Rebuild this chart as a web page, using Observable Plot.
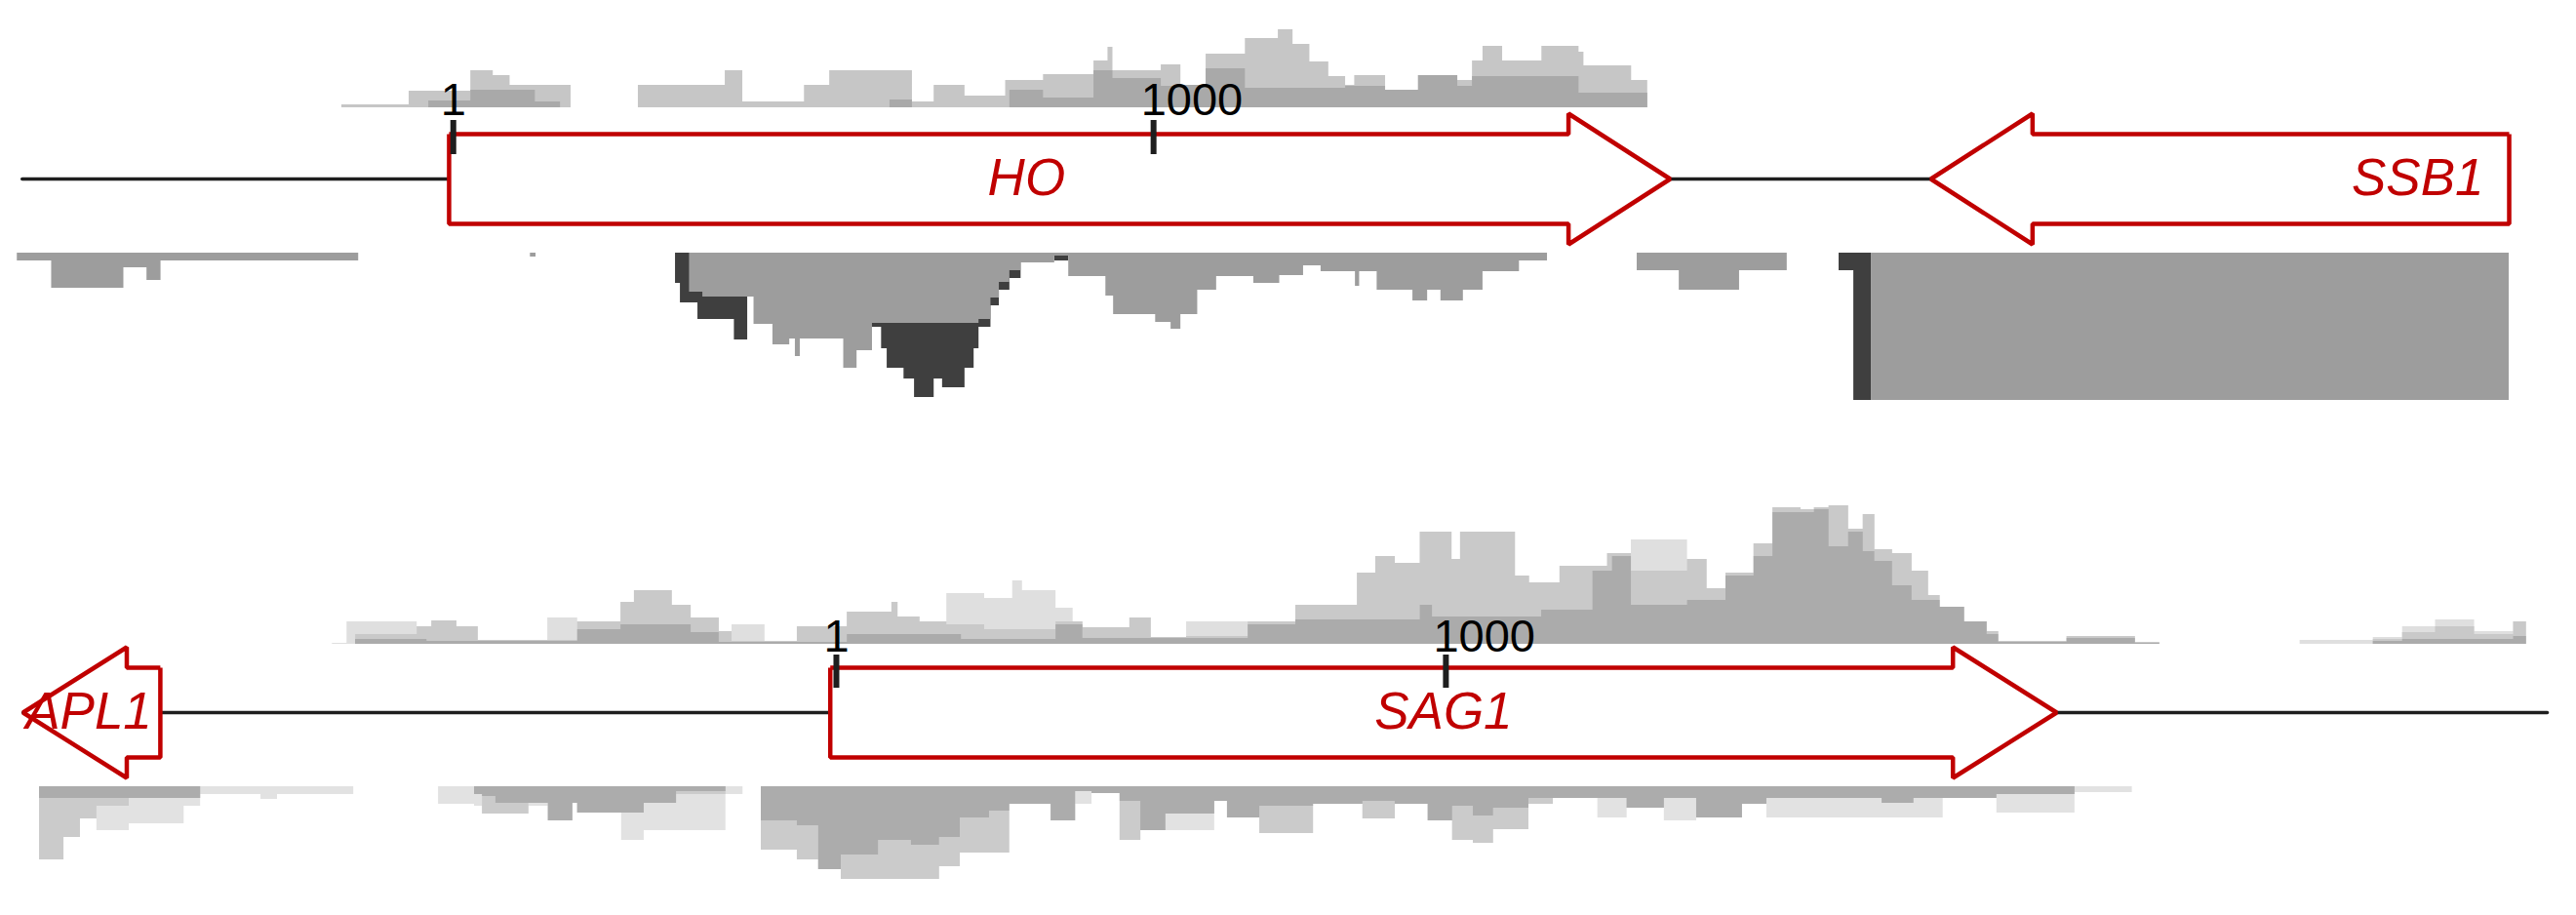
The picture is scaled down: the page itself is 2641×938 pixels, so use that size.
<!DOCTYPE html>
<html>
<head>
<meta charset="utf-8">
<script src="https://cdn.jsdelivr.net/npm/d3@7"></script>
<script src="https://cdn.jsdelivr.net/npm/@observablehq/plot@0.6"></script>
<style>
  html, body { margin: 0; padding: 0; background: #fff; }
  #chart { width: 2641px; height: 938px; overflow: hidden; }
  #chart svg { display: block; }
</style>
</head>
<body>
<div id="chart"></div>
<script>
// ================= DATA =================
// coordinate ticks (bp, relative to the start codon of the centred gene)
const tickPos = [1, 1000];
const tickLabels = ["1", "1000"];

// ---- top locus: HO / SSB1 ----
const topGeneNames  = ["HO", "SSB1"];
const topGeneStart  = [-5, 2109];
const topGeneEnd    = [1737, 2934];
const topGeneStrand = ["+", "-"];
const topLineExtent = [-614, 2109];

// sense-strand coverage (above the gene), step breakpoints (bp) and heights
const topSenseLightPos = [-158,-62,26,58,82,169,265,389,414,502,538,656,687,731,789,843,915,935,942,1011,1039,1075,1131,1178,1199,1223,1250,1274,1287,1331,1378,1434,1455,1470,1498,1554,1607,1614,1682,1705];
const topSenseLightVal = [3,17,38,33,23,0,23,38,6,23,38,6,23,12,28,34,48,62,38,44,23,55,71,80,65,47,32,23,33,18,33,28,48,63,48,63,57,43,28];
const topSenseMidPos = [-34,26,118,154,624,656,795,843,915,942,1011,1039,1075,1131,1274,1331,1378,1434,1455,1607,1705];
const topSenseMidVal = [7,18,6,0,8,0,18,10,38,30,22,23,40,20,22,18,33,22,32,15];

// antisense coverage (below the gene)
const topAntiDarkPos = [318,325,350,402,421,595,612,620,644,659,687,699,731,744,751,768,780,795,811,859,879,1978,1999,2024];
const topAntiDarkVal = [31,51,68,89,0,76,98,118,129,148,129,138,118,98,76,54,38,26,0,8,0,18,151];
const topAntiMidPos = [-621,-572,-469,-436,-416,-134,111,119,338,357,430,457,481,489,496,558,577,599,751,768,780,795,811,859,879,932,943,1003,1025,1039,1063,1090,1143,1180,1214,1239,1288,1294,1319,1370,1391,1410,1442,1470,1522,1562,1690,1750,1836,1904,2024,2934];
const topAntiMidVal = [8,36,15,28,8,0,4,0,40,45,73,94,88,106,88,118,100,72,68,46,30,18,10,3,24,44,63,71,78,63,38,24,31,23,13,19,34,19,38,49,38,49,38,19,8,0,18,38,18,0,151];

// ---- bottom locus: APL1 / SAG1 ----
const botGeneNames  = ["APL1", "SAG1"];
const botGeneStart  = [-1332, -9];
const botGeneEnd    = [-1107, 2001];
const botGeneStrand = ["-", "+"];
const botLineExtent = [-1332, 2805];

const botSensePos = [-825,-801,-787,-686,-670,-662,-621,-586,-472,-423,-352,-330,-268,-237,-191,-170,-116,-63,19,92,102,138,182,206,244,290,306,361,389,405,482,517,575,676,754,855,885,917,958,978,1010,1024,1114,1137,1157,1187,1241,1265,1273,1304,1396,1428,1459,1505,1536,1582,1604,1628,1660,1684,1703,1732,1764,1791,1810,1850,1887,1906,2018,2130,2170,2400,2520,2568,2622,2686,2750,2771];
const botSenseL = [1,23,23,18,18,24,18,4,27,23,43,55,40,27,13,20,3,18,33,43,28,23,52,52,47,65,55,37,23,17,27,7,23,23,40,73,90,83,115,115,87,115,70,63,63,80,80,93,93,107,87,57,73,103,140,138,140,142,118,133,97,93,75,50,38,23,13,3,8,2,0,4,7,18,25,13,23];
const botSenseM = [0,0,10,18,18,24,18,4,4,23,43,55,40,27,13,3,3,18,33,43,28,23,20,20,15,15,15,23,23,17,27,7,8,23,40,73,90,83,115,115,87,115,70,63,63,80,80,93,93,75,87,57,73,103,140,138,140,142,118,133,97,93,75,50,38,23,13,3,8,2,0,0,5,12,18,10,23];
const botSenseD = [0,0,5,5,3,3,3,3,3,15,20,20,20,12,2,2,2,2,10,10,10,10,10,5,5,5,5,20,20,6,6,6,6,20,25,25,25,25,40,28,28,28,28,28,35,35,75,75,90,40,45,45,70,90,135,135,138,100,115,95,85,60,45,45,38,23,10,2,6,1,0,0,3,5,5,5,8];

const botAntiPos = [-1305,-1265,-1238,-1211,-1158,-1068,-1041,-942,-915,-790,-651,-592,-579,-557,-503,-471,-431,-423,-351,-314,-261,-180,-152,-122,-63,-28,9,70,124,170,204,252,285,353,393,420,466,500,541,621,642,695,783,864,917,971,1011,1045,1078,1136,1176,1249,1297,1358,1411,1486,1526,1715,1767,1815,1903,2031,2125];
const botAntiL = [75,52,33,45,38,20,8,13,8,0,18,20,28,28,20,35,17,27,55,45,45,8,0,65,75,85,95,95,95,82,68,68,18,35,18,7,55,45,45,15,32,48,18,33,18,35,55,58,44,18,12,32,22,35,32,18,32,32,32,12,27,6];
const botAntiM = [75,52,33,20,12,12,0,0,0,0,0,8,28,28,17,35,17,27,27,17,8,0,0,65,75,85,95,95,95,82,68,68,18,35,5,7,55,45,28,15,32,48,18,33,18,35,55,58,44,18,12,12,22,12,32,18,12,17,12,12,8,0];
const botAntiD = [12,12,12,12,12,12,0,0,0,0,0,8,10,17,17,35,17,27,27,17,5,0,0,35,40,85,70,55,60,52,32,25,18,35,5,7,15,45,28,15,32,20,18,15,18,35,20,30,22,12,12,12,22,12,32,18,12,17,12,12,8,0];

// ================= RENDERING =================
const W = 2641, H = 469;
const RED = "#c00000";
const INK = "#1e1e1e";
const BODY = 46, HEADH = 67;
const FONT = "'Liberation Sans', Arial, Helvetica, sans-serif";

function steps(pos, val) {
  const out = val.map((v, i) => ({x: pos[i], v}));
  out.push({x: pos[pos.length - 1], v: val[val.length - 1]});
  return out;
}

function arrowRows(names, starts, ends, strands, head) {
  const rows = [];
  names.forEach((name, i) => {
    const s = starts[i], e = ends[i];
    let pts;
    if (strands[i] === "+") {
      const b = e - head;
      pts = [[s, BODY], [b, BODY], [b, HEADH], [e, 0], [b, -HEADH], [b, -BODY], [s, -BODY], [s, BODY]];
    } else {
      const b = s + head;
      pts = [[e, BODY], [b, BODY], [b, HEADH], [s, 0], [b, -HEADH], [b, -BODY], [e, -BODY], [e, BODY]];
    }
    pts.forEach(([x, y]) => rows.push({gene: name, x, y}));
  });
  return rows;
}

function coverage(pos, val, base, sign, fill) {
  return Plot.area(steps(pos, val), {
    x1: "x", y1: () => base, y2: d => base + sign * d.v,
    curve: "step-after", fill
  });
}

function panel(opts) {
  const {xDomain, yDomain, lineExtent, genes, head, sense, anti, senseBase, antiBase, tickY, labelY, geneLabels} = opts;
  return Plot.plot({
    width: W, height: H, margin: 0,
    x: {domain: xDomain, axis: null},
    y: {domain: yDomain, axis: null},
    style: {background: "white", overflow: "visible"},
    marks: [
      ...anti.map(l => coverage(l.pos, l.val, antiBase, -1, l.fill)),
      ...sense.map(l => coverage(l.pos, l.val, senseBase, 1, l.fill)),
      Plot.line(lineExtent.map(x => ({x, y: 0})), {x: "x", y: "y", stroke: INK, strokeWidth: 3.5}),
      Plot.line(arrowRows(genes.names, genes.starts, genes.ends, genes.strands, head), {
        x: "x", y: "y", z: "gene", fill: "white", stroke: RED, strokeWidth: 4.5,
        strokeLinejoin: "miter", strokeLinecap: "butt"
      }),
      Plot.ruleX(tickPos, {x: d => d, y1: tickY[0], y2: tickY[1], stroke: INK, strokeWidth: 6}),
      Plot.text(tickPos, {
        x: d => d, y: () => labelY, text: (d, i) => tickLabels[i],
        textAnchor: "start", lineAnchor: "bottom", dx: -13,
        fontSize: 47, fontFamily: FONT, fill: "#000"
      }),
      ...geneLabels.map(g => Plot.text([g], {
        x: "x", y: () => 0, text: "name", textAnchor: g.anchor, dx: g.dx,
        fontSize: 53, fontStyle: "italic", fontFamily: FONT, fill: RED
      }))
    ]
  });
}

const chart = document.getElementById("chart");

const topGenes = {names: topGeneNames, starts: topGeneStart, ends: topGeneEnd, strands: topGeneStrand};
chart.appendChild(panel({
  xDomain: [-645, 3030],
  yDomain: [-286, 183],
  lineExtent: topLineExtent,
  genes: topGenes,
  head: 145,
  senseBase: 73, antiBase: -76,
  tickY: [25, 60], labelY: 66,
  sense: [
    {pos: topSenseLightPos, val: topSenseLightVal, fill: "#c6c6c6"},
    {pos: topSenseMidPos, val: topSenseMidVal, fill: "#a9a9a9"}
  ],
  anti: [
    {pos: topAntiDarkPos, val: topAntiDarkVal, fill: "#3f3f3f"},
    {pos: topAntiMidPos, val: topAntiMidVal, fill: "#9d9d9d"}
  ],
  geneLabels: [
    {name: topGeneNames[0], x: (topGeneStart[0] + topGeneEnd[0]) / 2, anchor: "middle", dx: -34},
    {name: topGeneNames[1], x: topGeneEnd[1], anchor: "end", dx: -26}
  ]
}));

const botGenes = {names: botGeneNames, starts: botGeneStart, ends: botGeneEnd, strands: botGeneStrand};
chart.appendChild(panel({
  xDomain: [-1369, 2853],
  yDomain: [-208, 261],
  lineExtent: botLineExtent,
  genes: botGenes,
  head: 170,
  senseBase: 70, antiBase: -76,
  tickY: [25, 59], labelY: 63,
  sense: [
    {pos: botSensePos, val: botSenseL, fill: "#dfdfdf"},
    {pos: botSensePos, val: botSenseM, fill: "#c9c9c9"},
    {pos: botSensePos, val: botSenseD, fill: "#ababab"}
  ],
  anti: [
    {pos: botAntiPos, val: botAntiL, fill: "#e2e2e2"},
    {pos: botAntiPos, val: botAntiM, fill: "#cbcbcb"},
    {pos: botAntiPos, val: botAntiD, fill: "#acacac"}
  ],
  geneLabels: [
    {name: botGeneNames[0], x: (botGeneStart[0] + botGeneEnd[0]) / 2, anchor: "middle", dx: -3},
    {name: botGeneNames[1], x: (botGeneStart[1] + botGeneEnd[1]) / 2, anchor: "middle", dx: 0}
  ]
}));
</script>
</body>
</html>
